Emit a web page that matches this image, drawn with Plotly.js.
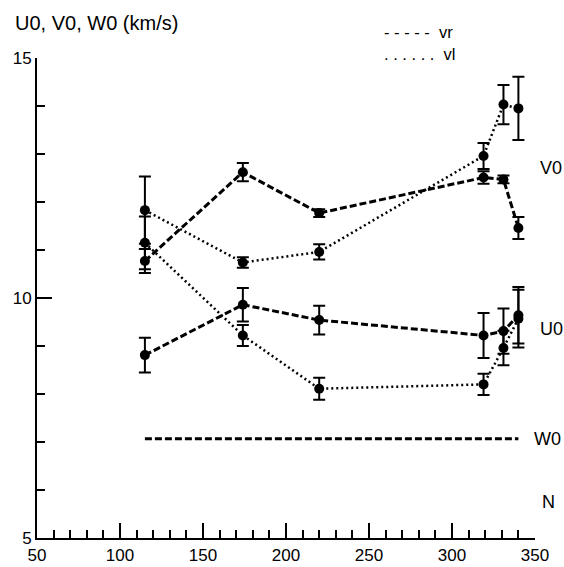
<!DOCTYPE html>
<html>
<head>
<meta charset="utf-8">
<script src="https://cdn.plot.ly/plotly-3.0.1.min.js"></script>
<style>html,body{margin:0;padding:0;background:#fff;}#chart{width:564px;height:567px;}</style>
</head>
<body>
<div id="chart"></div>
<script>
// N values (x)
const N = [115, 174, 220, 319, 331, 340];
// V0 series
const V0_vr = [10.77, 12.62, 11.77, 12.51, 12.47, 11.46];
const V0_vr_err = [0.25, 0.19, 0.08, 0.13, 0.08, 0.23];
const V0_vl = [11.83, 10.74, 10.96, 12.96, 14.03, 13.95];
const V0_vl_err = [0.70, 0.11, 0.16, 0.27, 0.41, 0.66];
// U0 series
const U0_vr = [8.81, 9.86, 9.54, 9.22, 9.31, 9.64];
const U0_vr_err = [0.36, 0.35, 0.30, 0.47, 0.47, 0.59];
const U0_vl = [11.15, 9.22, 8.11, 8.20, 8.96, 9.57];
const U0_vl_err = [0.55, 0.22, 0.23, 0.22, 0.36, 0.60];
// W0 series
const W0_vr = [7.07, 7.07, 7.07, 7.07, 7.07, 7.07];
// labels
const titleText = "U0, V0, W0 (km/s)";
const seriesLabels = ["V0", "U0", "W0"];
const xLabel = "N";
const legendLabels = ["vr", "vl"];

const FONT = "Liberation Sans, Arial, Helvetica, sans-serif";
const dashed = {color: "black", width: 3, dash: "7px,3px"};
const dotted = {color: "black", width: 2.5, dash: "2px,3px"};
const mk = {color: "black", size: 10, symbol: "circle"};
function eb(arr){ return {type: "data", array: arr, visible: true, color: "black", thickness: 2, width: 6}; }

const traces = [
  {x: N, y: V0_vr, mode: "lines+markers", line: dashed, marker: mk, error_y: eb(V0_vr_err), name: "V0 vr"},
  {x: N, y: V0_vl, mode: "lines+markers", line: dotted, marker: mk, error_y: eb(V0_vl_err), name: "V0 vl"},
  {x: N, y: U0_vr, mode: "lines+markers", line: dashed, marker: mk, error_y: eb(U0_vr_err), name: "U0 vr"},
  {x: N, y: U0_vl, mode: "lines+markers", line: dotted, marker: mk, error_y: eb(U0_vl_err), name: "U0 vl"},
  {x: N, y: W0_vr, mode: "lines", line: dashed, name: "W0 vr"}
];

const PW = 498; // plot width in px, for placing side labels in paper units
function px2paper(px){ return (px - 37) / PW; }
const lab = (txt, px, yv, size) => ({xref: "paper", yref: "y", x: px2paper(px), y: yv, text: txt, showarrow: false,
  font: {family: FONT, size: size, color: "black"}, xanchor: "center", yanchor: "middle"});

const layout = {
  width: 564, height: 567,
  margin: {l: 37, r: 29, t: 58, b: 29},
  paper_bgcolor: "white", plot_bgcolor: "white",
  showlegend: false,
  font: {family: FONT, size: 17, color: "black"},
  title: {text: titleText, font: {family: FONT, size: 20, color: "black"},
          xref: "container", yref: "container", x: 15/564, xanchor: "left", y: 1 - 23/567, yanchor: "middle"},
  xaxis: {
    range: [50, 350], showgrid: false, zeroline: false,
    showline: true, linecolor: "black", linewidth: 2,
    tickmode: "linear", tick0: 50, dtick: 50,
    ticks: "inside", ticklen: 15, tickwidth: 2, tickcolor: "black",
    ticklabelstandoff: 1,
    minor: {tickmode: "linear", tick0: 50, dtick: 10, ticks: "inside", ticklen: 8, tickwidth: 2, tickcolor: "black", showgrid: false},
    tickfont: {family: FONT, size: 17, color: "black"}
  },
  yaxis: {
    range: [5, 15], showgrid: false, zeroline: false,
    showline: true, linecolor: "black", linewidth: 2,
    tickmode: "linear", tick0: 5, dtick: 5,
    ticks: "inside", ticklen: 15, tickwidth: 2, tickcolor: "black",
    minor: {tickmode: "linear", tick0: 5, dtick: 1, ticks: "inside", ticklen: 8, tickwidth: 2, tickcolor: "black", showgrid: false},
    tickfont: {family: FONT, size: 17, color: "black"}
  },
  annotations: [
    lab(seriesLabels[0], 551, 12.71, 18),
    lab(seriesLabels[1], 551, 9.35, 18),
    lab(seriesLabels[2], 547, 7.07, 18),
    lab(xLabel, 548, 5.74, 18),
    {xref: "paper", yref: "paper", x: px2paper(382), y: 1 + (58-32)/479.7, text: "- - - - -&nbsp;&nbsp;" + legendLabels[0], showarrow: false, font: {family: FONT, size: 16.5, color: "black"}, xanchor: "left", yanchor: "middle"},
    {xref: "paper", yref: "paper", x: px2paper(382), y: 1 + (58-54)/479.7, text: ". . . . . .&nbsp;&nbsp;" + legendLabels[1], showarrow: false, font: {family: FONT, size: 16.5, color: "black"}, xanchor: "left", yanchor: "middle"}
  ]
};

Plotly.newPlot("chart", traces, layout, {displayModeBar: false, staticPlot: true});
</script>
</body>
</html>
